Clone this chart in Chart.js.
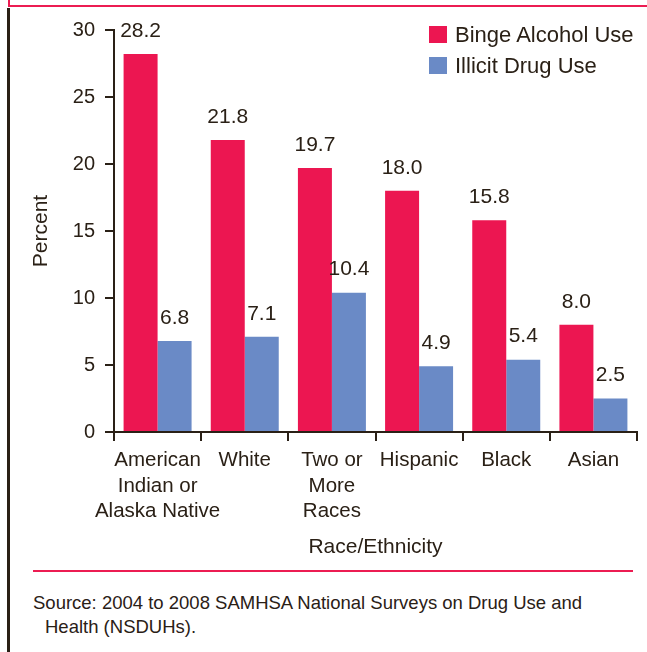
<!DOCTYPE html>
<html>
<head>
<meta charset="utf-8">
<script src="https://cdn.jsdelivr.net/npm/chart.js@4/dist/chart.umd.min.js"></script>
<style>
  html, body { margin: 0; padding: 0; background: #fff; }
  body { width: 647px; height: 652px; position: relative; overflow: hidden;
         font-family: "Liberation Sans", Arial, Helvetica, sans-serif; color: #2a2016; }
  #wrap { position: absolute; left: 0; top: 0; width: 647px; height: 562px; }
  .rule-top { position: absolute; left: 8px; top: 5px; width: 639px; height: 2px; background: #ec1c52; }
  .rule-corner { position: absolute; left: 8px; top: 0; width: 2px; height: 7px; background: #ec1c52; }
  .rule-left { position: absolute; left: 7px; top: 8px; width: 3px; height: 644px; background: #2a2016; }
  .rule-bottom { position: absolute; left: 33px; top: 570px; width: 600px; height: 2px; background: #ec1c52; }
  .source { position: absolute; left: 33px; top: 591px; font-size: 18.5px; line-height: 24px; }
  .source span { display: block; padding-left: 12px; }
  #legend { position: absolute; left: 429px; top: 19px; font-size: 22px; }
  #legend div { height: 31px; display: flex; align-items: center; }
  #legend i { display: inline-block; width: 18px; height: 17px; margin-right: 8px; }
</style>
</head>
<body>
<div class="rule-top"></div>
<div class="rule-corner"></div>
<div class="rule-left"></div>
<div id="wrap"><canvas id="c"></canvas></div>
<div id="legend"></div>
<div class="rule-bottom"></div>
<div class="source">Source: 2004 to 2008 SAMHSA National Surveys on Drug Use and<span>Health (NSDUHs).</span></div>
<script>
const categories = [
  ["American", "Indian or", "Alaska Native"],
  "White",
  ["Two or", "More", "Races"],
  "Hispanic",
  "Black",
  "Asian"
];
const bingeAlcohol = [28.2, 21.8, 19.7, 18.0, 15.8, 8.0];
const illicitDrug = [6.8, 7.1, 10.4, 4.9, 5.4, 2.5];
const yTicks = [0, 5, 10, 15, 20, 25, 30];

const INK = "#2a2016";
const PINK = "#ec1651";
const BLUE = "#6a8ac6";
const FONT = "'Liberation Sans', Arial, Helvetica, sans-serif";

// value labels drawn above each bar
const barValues = {
  id: "barValues",
  afterDatasetsDraw(chart) {
    const ctx = chart.ctx;
    ctx.save();
    ctx.font = "21px " + FONT;
    ctx.fillStyle = INK;
    ctx.textAlign = "center";
    ctx.textBaseline = "middle";
    chart.data.datasets.forEach((ds, i) => {
      chart.getDatasetMeta(i).data.forEach((bar, j) => {
        ctx.fillText(ds.data[j].toFixed(1), bar.x, bar.y - 23);
      });
    });
    ctx.restore();
  }
};

const chart = new Chart(document.getElementById("c"), {
  type: "bar",
  data: {
    labels: categories,
    datasets: [
      { label: "Binge Alcohol Use", data: bingeAlcohol, backgroundColor: PINK },
      { label: "Illicit Drug Use", data: illicitDrug, backgroundColor: BLUE }
    ]
  },
  options: {
    responsive: true,
    maintainAspectRatio: false,
    animation: false,
    events: [],
    layout: { padding: { top: 30, right: 10, bottom: 0, left: 0 } },
    datasets: { bar: { categoryPercentage: 0.78, barPercentage: 1.0 } },
    plugins: { legend: { display: false }, tooltip: { enabled: false } },
    scales: {
      x: {
        grid: { drawOnChartArea: false, drawTicks: true, tickLength: 9, color: INK, lineWidth: 2 },
        border: { color: INK, width: 2 },
        ticks: { color: INK, font: { family: FONT, size: 20.5, lineHeight: 1.24 }, padding: 7, maxRotation: 0, autoSkip: false },
        title: { display: true, text: "Race/Ethnicity", color: INK, font: { family: FONT, size: 21 }, padding: { top: 0, bottom: 2 } },
        afterFit(scale) { scale.height = 130; }
      },
      y: {
        min: 0, max: 30,
        afterBuildTicks(scale) { scale.ticks = yTicks.map(v => ({ value: v })); },
        grid: { drawOnChartArea: false, drawTicks: true, tickLength: 9, color: INK, lineWidth: 2 },
        border: { color: INK, width: 2 },
        ticks: { color: INK, font: { family: FONT, size: 20 }, padding: 10 },
        title: { display: true, text: "Percent", color: INK, font: { family: FONT, size: 21 }, padding: { top: 29, bottom: 0 } },
        afterFit(scale) { scale.width = 114; }
      }
    }
  },
  plugins: [barValues]
});

// legend built from the dataset definitions
const legend = document.getElementById("legend");
chart.data.datasets.forEach(ds => {
  const row = document.createElement("div");
  const sw = document.createElement("i");
  sw.style.background = ds.backgroundColor;
  row.appendChild(sw);
  row.appendChild(document.createTextNode(ds.label));
  legend.appendChild(row);
});
</script>
</body>
</html>
